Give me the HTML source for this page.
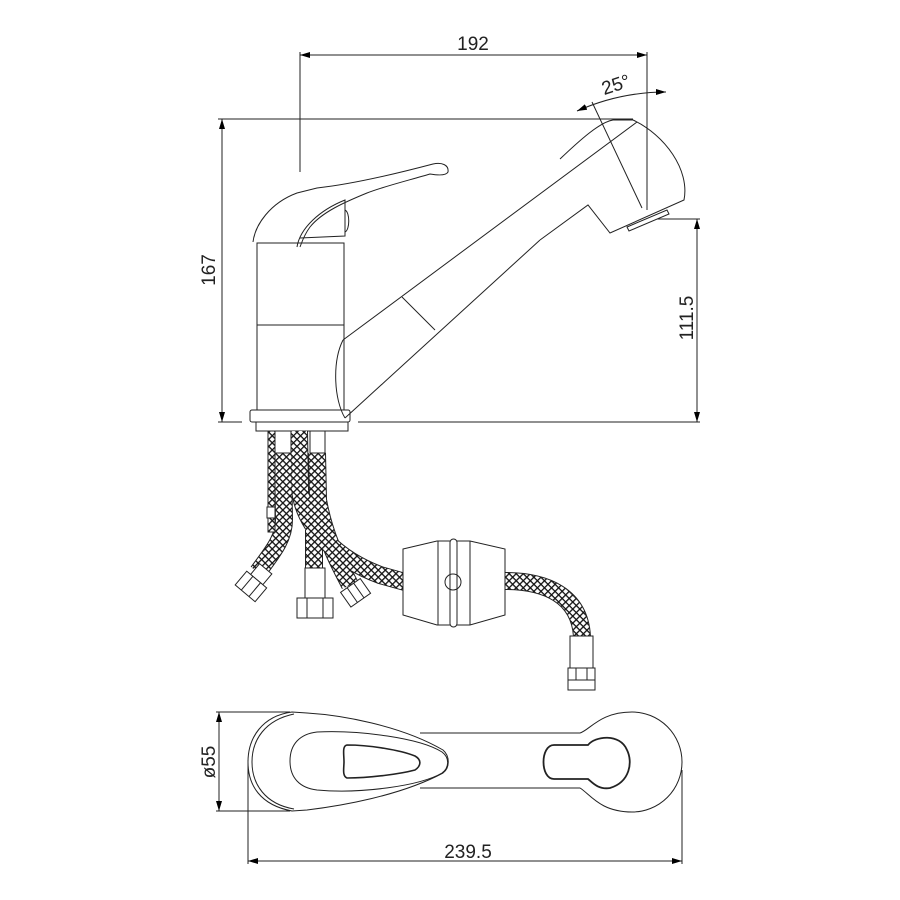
<!DOCTYPE html>
<html><head><meta charset="utf-8"><style>html,body{margin:0;padding:0;background:#fff}svg{display:block}</style></head>
<body>
<svg width="900" height="900" viewBox="0 0 900 900" xmlns="http://www.w3.org/2000/svg">
<defs>
<pattern id="h" width="5" height="5" patternUnits="userSpaceOnUse" patternTransform="rotate(45)">
<rect width="5" height="5" fill="#fff"/>
<line x1="0" y1="0.6" x2="5" y2="0.6" stroke="#111" stroke-width="1.4"/>
<line x1="0.6" y1="0" x2="0.6" y2="5" stroke="#111" stroke-width="1.4"/>
</pattern>
<marker id="a" viewBox="0 0 10 6" refX="10" refY="3" markerWidth="10" markerHeight="6" orient="auto-start-reverse" markerUnits="userSpaceOnUse"><path d="M0,0L10,3L0,6z" fill="#000"/></marker>
</defs>
<g fill="none" stroke="#222" stroke-width="1">
<line x1="300" y1="55" x2="647" y2="55" marker-start="url(#a)" marker-end="url(#a)"/>
<line x1="300" y1="52" x2="300" y2="172"/>
<line x1="647" y1="52" x2="647" y2="210"/>
<line x1="218" y1="119" x2="633" y2="119"/>
<line x1="222" y1="119" x2="222" y2="422" marker-start="url(#a)" marker-end="url(#a)"/>
<line x1="218" y1="422" x2="242" y2="422"/>
<line x1="358" y1="422" x2="700" y2="422"/>
<line x1="697" y1="219" x2="697" y2="422" marker-start="url(#a)" marker-end="url(#a)"/>
<line x1="657" y1="219" x2="700" y2="219"/>
<line x1="592" y1="102" x2="642" y2="208"/>
<path d="M577,111 Q620,92 666,92" marker-start="url(#a)" marker-end="url(#a)"/>
<rect x="257" y="243" width="87" height="167"/>
<line x1="257" y1="325" x2="344" y2="325"/>
<rect x="250" y="410" width="100" height="12" rx="2"/>
<rect x="256" y="422" width="92" height="9"/>
<path d="M253,242 C255,225 270,203 297,193 L317,188 C345,185 380,178 433,164 C442,162 449,165 448,172 C446,176 436,175 430,174 C410,180 385,186 367,193 C345,202 322,212 310,227 C304,235 302,242 300,247"/>
<path d="M297,247 C300,228 320,210 345,200 L345,236 L300,238"/>
<path d="M345,210 C350,212 350,230 345,232"/>
<path d="M343,340 L637,122"/>
<path d="M345,418 L540,240"/>
<path d="M343,340 C332,362 334,400 345,418"/>
<line x1="402" y1="297" x2="435" y2="330"/>
<path d="M560,159 C580,140 600,122 613,120 L633,120 C665,135 690,170 684,200 L610,233 L588,205 L540,240"/>
<path d="M627,227 L667,210 L669,214 L629,231 Z"/>
</g>
<g fill="none" stroke-linecap="butt">
<g stroke="#222" stroke-width="18">
<path d="M283,453 L284,520 C284,540 270,555 258,572"/>
<path d="M299,431 L300,490 C305,530 340,560 380,575 L405,582"/>
<path d="M317,453 L318,500 C325,540 340,565 350,585"/>
<path d="M314,530 L314,568"/>
<path d="M505,581 C545,581 580,595 582,637"/>
</g>
<g stroke="url(#h)" stroke-width="16">
<path d="M283,453 L284,520 C284,540 270,555 258,572"/>
<path d="M317,453 L318,500 C325,540 340,565 350,585"/>
<path d="M314,530 L314,568"/>
<path d="M299,431 L300,490 C305,530 340,560 380,575 L405,582"/>
<path d="M505,581 C545,581 580,595 582,637"/>
</g>
</g>
<g fill="#fff" stroke="#222" stroke-width="1">
<rect x="268" y="431" width="7" height="101" fill="url(#h)"/>
<rect x="267" y="507" width="8" height="11"/>
<rect x="275" y="431" width="16" height="22"/>
<rect x="310" y="431" width="15" height="22"/>
<g transform="translate(258,578) rotate(40)"><rect x="-8" y="-12" width="16" height="14"/><rect x="-13" y="2" width="26" height="18"/><line x1="-5" y1="2" x2="-5" y2="20"/><line x1="5" y1="2" x2="5" y2="20"/></g>
<rect x="305" y="568" width="20" height="30"/>
<rect x="297" y="598" width="36" height="20"/><line x1="307" y1="598" x2="307" y2="618"/><line x1="323" y1="598" x2="323" y2="618"/>
<g transform="translate(355,592) rotate(-35)"><rect x="-12" y="-8" width="24" height="18"/><line x1="-4" y1="-8" x2="-4" y2="10"/><line x1="4" y1="-8" x2="4" y2="10"/></g>
<path d="M403,549 L437,541 L470,541 L505,549 L505,615 L470,625 L437,625 L403,615 Z"/>
<line x1="438" y1="541" x2="438" y2="625"/><line x1="470" y1="541" x2="470" y2="625"/>
<rect x="450" y="539" width="7" height="88" rx="3.5"/>
<circle cx="453" cy="582" r="8" fill="none"/>
<rect x="570" y="636" width="23" height="32"/>
<rect x="568" y="668" width="27" height="22"/><line x1="576" y1="668" x2="576" y2="680"/><line x1="587" y1="668" x2="587" y2="680"/><line x1="568" y1="680" x2="595" y2="680"/>
</g>
<g fill="none" stroke="#222" stroke-width="1">
<line x1="219" y1="712" x2="219" y2="811" marker-start="url(#a)" marker-end="url(#a)"/>
<line x1="216" y1="712" x2="290" y2="712"/>
<line x1="216" y1="811" x2="290" y2="811"/>
<line x1="248" y1="861" x2="682" y2="861" marker-start="url(#a)" marker-end="url(#a)"/>
<line x1="248" y1="760" x2="248" y2="864"/>
<line x1="682" y1="770" x2="682" y2="864"/>
<path d="M420,733 L580,733 C590,730 600,712 632,712 A50,50 0 1 1 632,812 C600,812 590,794 580,788 L420,788"/>
<path d="M292,712 L307,713 C340,715 400,725 443,750 C450,756 450,768 443,773 C400,796 340,806 307,810 L292,811 C260,805 248,785 248,762 C248,738 262,716 292,712 Z" fill="#fff"/>
<path d="M294,714 C265,720 252,740 252,762 C252,784 265,804 294,809"/>
<path d="M317,732 C360,730 420,738 442,752 C450,758 449,768 442,773 C420,786 360,794 317,790 C300,788 290,778 290,761 C290,744 300,734 317,732 Z"/>
<path d="M347,745 C370,745 400,750 415,756 C422,760 421,766 415,770 C400,774 370,778 347,778 C342,776 344,768 344,762 C344,754 342,746 347,745 Z" stroke-width="1.6"/>
<path d="M554,745 L588,745 C595,736 620,733 627,750 C633,762 630,782 610,788 C598,790 592,782 588,779 L554,779 C540,779 540,745 554,745 Z" stroke-width="1.8"/>
</g>
<g font-family="Liberation Sans, sans-serif" font-size="19" fill="#222" text-anchor="middle">
<text x="473" y="50">192</text>
<text x="616" y="91" transform="rotate(-18 616 85)">25°</text>
<text transform="translate(215,270) rotate(-90)">167</text>
<text transform="translate(693,318) rotate(-90)">111.5</text>
<text transform="translate(215,762) rotate(-90)">ø55</text>
<text x="468" y="858">239.5</text>
</g>
</svg>
</body></html>
